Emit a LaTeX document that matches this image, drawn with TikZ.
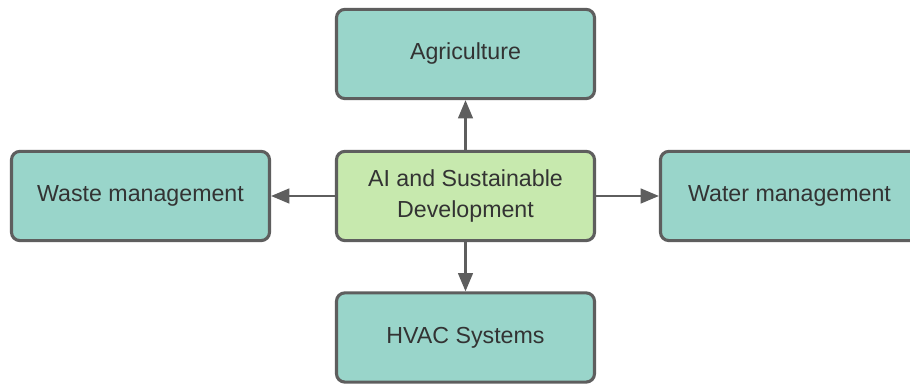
\documentclass[tikz,border=0pt]{standalone}
\usepackage{fontspec}
\setmainfont{Liberation Sans}
\usetikzlibrary{arrows.meta}

\definecolor{boxteal}{HTML}{99D5CA}
\definecolor{boxgreen}{HTML}{C7E9AE}
\definecolor{edgegray}{HTML}{5E5E5E}
\definecolor{textgray}{HTML}{333333}

\tikzset{
    topic/.style={draw=edgegray, line width=2.2pt, rounded corners=6pt, fill=boxteal,
        minimum width=6.45cm, minimum height=2.23cm, align=center, text=textgray,
        font=\fontsize{16.5}{22.5}\selectfont},
    hub/.style={topic, fill=boxgreen},
    link/.style={draw=edgegray, line width=1.5pt, -{Triangle[length=13pt, width=10.5pt]}}
}

\begin{document}
\begin{tikzpicture}[x=0.025cm, y=-0.025cm]
        \clip (0,0) rectangle (910,385);
        \fill[white] (0,0) rectangle (910,385);
        \node[hub] (ai) at (465.5,196) {AI and Sustainable\\Development};
        \node[topic] (agri) at (465.5,54) {Agriculture};
        \node[topic] (hvac) at (465.5,337.5) {HVAC Systems};
        \node[topic] (waste) at (140.5,196) {Waste management};
        \node[topic] (water) at (789.5,196) {Water management};
        \draw[link] (ai) -- (agri);
        \draw[link] (ai) -- (hvac);
        \draw[link] (ai) -- (waste);
        \draw[link] (ai) -- (water);
    \end{tikzpicture}
\end{document}
